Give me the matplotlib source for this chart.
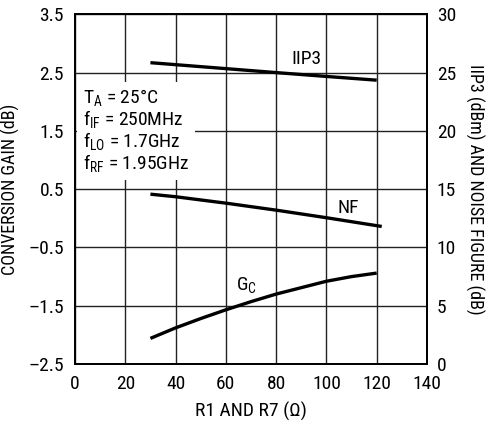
import matplotlib
matplotlib.use("Agg")
from matplotlib import pyplot as plt

# data
r_ohm = [30, 40, 50, 60, 70, 80, 90, 100, 110, 120]
gc_db = [-2.06, -1.88, -1.72, -1.57, -1.43, -1.30, -1.19, -1.08, -1.00, -0.94]

r_iip3 = [30, 40, 60, 80, 100, 120]
iip3_dbm = [25.85, 25.68, 25.34, 25.0, 24.67, 24.35]

r_nf = [30, 40, 60, 80, 100, 122]
nf_db = [14.57, 14.35, 13.8, 13.2, 12.55, 11.8]

x_ticks = [0, 20, 40, 60, 80, 100, 120, 140]
left_ticks = [-2.5, -1.5, -0.5, 0.5, 1.5, 2.5, 3.5]
right_ticks = [0, 5, 10, 15, 20, 25, 30]

FONT = ["Roboto Condensed", "DejaVu Sans"]
plt.rcParams["font.family"] = FONT
plt.rcParams["mathtext.fontset"] = "custom"
plt.rcParams["mathtext.rm"] = FONT[0]
plt.rcParams["mathtext.default"] = "regular"

fig = plt.figure(figsize=(4.95, 4.22), dpi=100)
ax = fig.add_axes([0.1515, 0.1374, 0.7111, 0.8287])
ax2 = ax.twinx()

ax.set_xlim(0, 140)
ax.set_ylim(-2.5, 3.5)
ax2.set_ylim(0, 30)
ax.set_xticks(x_ticks)
ax.set_yticks(left_ticks)
ax.set_yticklabels([f"{v:.1f}".replace("-", "\u2013") for v in left_ticks])
ax2.set_yticks(right_ticks)

ax.grid(True, color="#222222", linewidth=1.0)
ax.tick_params(axis="y", length=0, labelsize=14, pad=8)
ax.tick_params(axis="x", length=0, labelsize=14, pad=8)
ax2.tick_params(length=0, labelsize=14, pad=7)
for a in (ax, ax2):
    for s in a.spines.values():
        s.set_linewidth(1.3)

ax.plot(r_ohm, gc_db, color="black", linewidth=2.4, solid_capstyle="butt", zorder=3)
ax2.plot(r_iip3, iip3_dbm, color="black", linewidth=2.4, solid_capstyle="butt")
ax2.plot(r_nf, nf_db, color="black", linewidth=2.4, solid_capstyle="butt")

ax2.text(92, 26.2, "IIP3", fontsize=14, ha="center", va="center")
ax2.text(108.5, 13.4, "NF", fontsize=14, ha="center", va="center")
ax.text(68.3, -1.14, "G$_C$", fontsize=14, ha="center", va="center")

ax.text(3.0, 1.5,
        "T$_A$ = 25°C\nf$_{IF}$ = 250MHz\nf$_{LO}$ = 1.7GHz\nf$_{RF}$ = 1.95GHz",
        fontsize=14, ha="left", va="center", linespacing=1.0, zorder=4,
        bbox=dict(facecolor="white", edgecolor="none", pad=4))

ax.set_xlabel("R1 AND R7 (\u03a9)", fontsize=14, labelpad=6)
ax.set_ylabel("CONVERSION GAIN (dB)", fontsize=13, labelpad=6)
ax2.set_ylabel("IIP3 (dBm) AND NOISE FIGURE (dB)", fontsize=13, rotation=270,
               labelpad=20)

fig.savefig("out.png", dpi=100)
